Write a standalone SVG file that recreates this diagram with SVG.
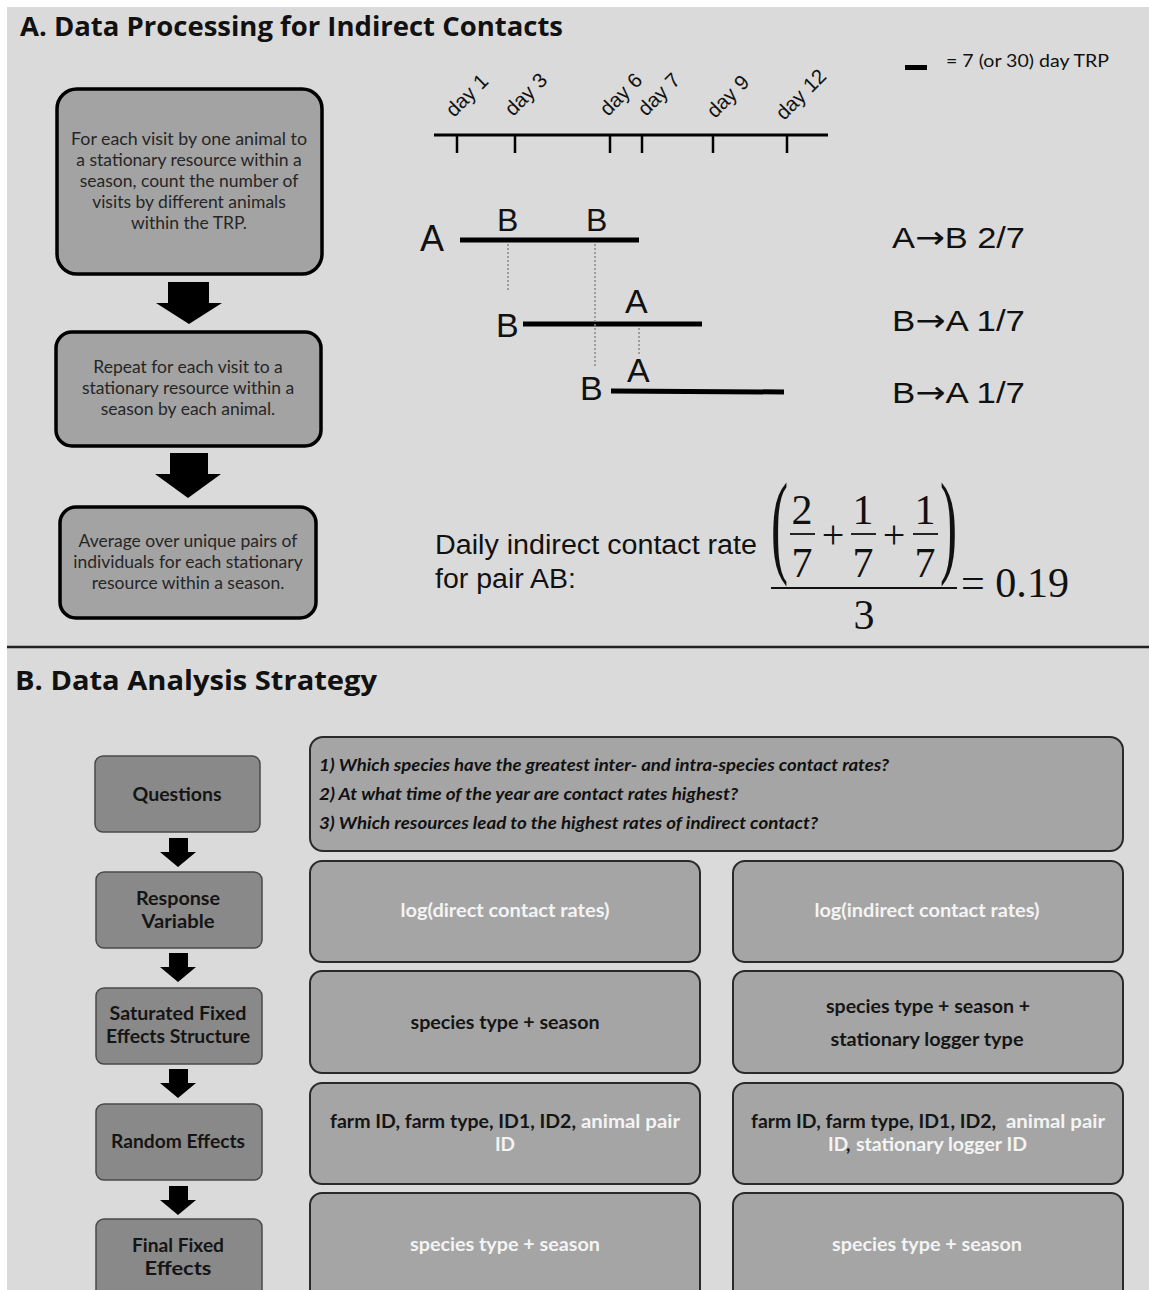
<svg xmlns="http://www.w3.org/2000/svg" width="1149" height="1290" viewBox="0 0 1149 1290">
<style>
.bg{fill:#dadada}
.boxA{fill:#a3a3a3;stroke:#000;stroke-width:3.5}
.txtA{font-family:Lato,"Open Sans",sans-serif;font-size:17.5px;fill:#262626;text-anchor:middle}
.title{font-family:"Open Sans",sans-serif;font-weight:bold;font-size:26px;fill:#111}
.lbl{font-family:"Liberation Sans",Arial,sans-serif;fill:#111}
.ar{font-family:"DejaVu Sans",sans-serif}
.bar{stroke:#000;stroke-width:5;stroke-linecap:butt}
.dot{stroke:#888;stroke-width:1.5;stroke-dasharray:2 2}
.serif{font-family:"Liberation Serif","Times New Roman",serif;fill:#111}
.boxL{fill:#898989;stroke:#4a4a4a;stroke-width:1.5}
.boxR{fill:#a5a5a5;stroke:#2a2a2a;stroke-width:2}
.txtB{font-family:Lato,"Open Sans",sans-serif;font-weight:bold;font-size:19px;fill:#151515;text-anchor:middle}
.st{text-anchor:start}
.wht{fill:#f4f4f4}
.q{font-family:Lato,"Open Sans",sans-serif;font-style:italic;font-weight:bold;font-size:17px;fill:#111}
.arr{fill:#000}
</style>
<rect x="0" y="0" width="1149" height="1290" fill="#ffffff"/>
<rect class="bg" x="7" y="7" width="1142" height="1283"/>
<line x1="7" y1="647" x2="1149" y2="647" stroke="#222" stroke-width="2.5"/>

<!-- Panel A title -->
<text class="title" x="20" y="36" textLength="543" lengthAdjust="spacingAndGlyphs">A. Data Processing for Indirect Contacts</text>

<!-- Panel A flow nodes -->
<g id="nodeA1">
<rect class="boxA" x="57" y="89" width="265" height="185" rx="20"/>
<text class="txtA" x="189" y="145" textLength="236" lengthAdjust="spacingAndGlyphs">For each visit by one animal to</text>
<text class="txtA" x="189" y="166">a stationary resource within a</text>
<text class="txtA" x="189" y="187">season, count the number of</text>
<text class="txtA" x="189" y="208">visits by different animals</text>
<text class="txtA" x="189" y="229">within the TRP.</text>
</g>
<g id="nodeA2">
<rect class="boxA" x="56" y="332" width="265" height="114" rx="16"/>
<text class="txtA" x="188" y="373">Repeat for each visit to a</text>
<text class="txtA" x="188" y="394">stationary resource within a</text>
<text class="txtA" x="188" y="415">season by each animal.</text>
</g>
<g id="nodeA3">
<rect class="boxA" x="60" y="507" width="256" height="111" rx="16"/>
<text class="txtA" x="188" y="547">Average over unique pairs of</text>
<text class="txtA" x="188" y="568">individuals for each stationary</text>
<text class="txtA" x="188" y="589">resource within a season.</text>
</g>

<!-- Timeline -->
<g id="timeline">
<line x1="434" y1="135" x2="828" y2="135" stroke="#000" stroke-width="3"/>
<g stroke="#000" stroke-width="2.5">
<line x1="457" y1="135" x2="457" y2="153"/>
<line x1="515" y1="135" x2="515" y2="153"/>
<line x1="610" y1="135" x2="610" y2="153"/>
<line x1="642" y1="135" x2="642" y2="153"/>
<line x1="713" y1="135" x2="713" y2="153"/>
<line x1="787" y1="135" x2="787" y2="153"/>
</g>
<g class="lbl" font-size="20.5">
<text transform="translate(454,118) rotate(-45)">day 1</text>
<text transform="translate(513,117) rotate(-45)">day 3</text>
<text transform="translate(608,117) rotate(-45)">day 6</text>
<text transform="translate(646,117) rotate(-45)">day 7</text>
<text transform="translate(715,119) rotate(-45)">day 9</text>
<text transform="translate(784,121) rotate(-45)">day 12</text>
</g>
</g>

<!-- Legend -->
<g id="legend">
<rect x="905" y="65" width="22" height="5" fill="#000"/>
<text x="946" y="67" font-family="Lato,'Open Sans',sans-serif" font-size="18" fill="#111" textLength="163" lengthAdjust="spacingAndGlyphs">= 7 (or 30) day TRP</text>
</g>

<!-- Visit bars -->
<g id="bars">
<line class="bar" x1="460" y1="240" x2="639" y2="240"/>
<line class="bar" x1="523" y1="324" x2="702" y2="324"/>
<line class="bar" x1="611" y1="391" x2="784" y2="392"/>
<line class="dot" x1="508" y1="244" x2="508" y2="290"/>
<line class="dot" x1="595" y1="244" x2="595" y2="368"/>
<line class="dot" x1="639" y1="328" x2="639" y2="354"/>
<g class="lbl">
<text x="420" y="251" font-size="36">A</text>
<text x="497" y="231" font-size="32">B</text>
<text x="586" y="231" font-size="32">B</text>
<text x="496" y="337" font-size="34">B</text>
<text x="625" y="313" font-size="34">A</text>
<text x="580" y="400" font-size="34">B</text>
<text x="627" y="382" font-size="34">A</text>
</g>
</g>

<!-- Results -->
<g id="results" class="lbl" font-size="30">
<text x="892" y="248" textLength="133" lengthAdjust="spacingAndGlyphs">A<tspan class="ar" font-size="31">→</tspan>B 2/7</text>
<text x="892" y="331" textLength="133" lengthAdjust="spacingAndGlyphs">B<tspan class="ar" font-size="31">→</tspan>A 1/7</text>
<text x="892" y="403" textLength="133" lengthAdjust="spacingAndGlyphs">B<tspan class="ar" font-size="31">→</tspan>A 1/7</text>
</g>

<!-- Equation -->
<g id="equation">
<text class="lbl" x="435" y="554" font-size="27" textLength="322" lengthAdjust="spacingAndGlyphs">Daily indirect contact rate</text>
<text class="lbl" x="435" y="588" font-size="27" textLength="141" lengthAdjust="spacingAndGlyphs">for pair AB:</text>
<text class="serif" transform="translate(771,562) scale(0.45,1)" font-size="114">(</text>
<text class="serif" transform="translate(940,562) scale(0.45,1)" font-size="114">)</text>
<g class="serif" font-size="42" text-anchor="middle">
<text x="802" y="524">2</text>
<text x="863" y="524">1</text>
<text x="925" y="524">1</text>
<text x="802" y="577">7</text>
<text x="863" y="577">7</text>
<text x="925" y="577">7</text>
<text x="833" y="548" font-size="40">+</text>
<text x="894" y="548" font-size="40">+</text>
<text x="864" y="629">3</text>
</g>
<g stroke="#111" stroke-width="1.8">
<line x1="790" y1="534" x2="815" y2="534"/>
<line x1="851" y1="534" x2="876" y2="534"/>
<line x1="913" y1="534" x2="938" y2="534"/>
<line x1="771" y1="588" x2="957" y2="588" stroke-width="2.2"/>
</g>
<text class="serif" x="961" y="597" font-size="42" textLength="108" lengthAdjust="spacingAndGlyphs">= 0.19</text>
</g>

<!-- Panel B title -->
<text class="title" x="15" y="690" textLength="362" lengthAdjust="spacingAndGlyphs">B.  Data Analysis Strategy</text>

<!-- Panel B left nodes -->
<g id="nodeQuestions">
<rect class="boxL" x="95" y="756" width="165" height="76" rx="8"/>
<text class="txtB" x="177" y="801" textLength="89" lengthAdjust="spacingAndGlyphs">Questions</text>
</g>
<g id="nodeResponse">
<rect class="boxL" x="96" y="872" width="166" height="76" rx="8"/>
<text class="txtB" x="178" y="905" textLength="84" lengthAdjust="spacingAndGlyphs">Response</text>
<text class="txtB" x="178" y="928" textLength="73" lengthAdjust="spacingAndGlyphs">Variable</text>
</g>
<g id="nodeSaturated">
<rect class="boxL" x="96" y="988" width="166" height="76" rx="8"/>
<text class="txtB" x="178" y="1020" textLength="137" lengthAdjust="spacingAndGlyphs">Saturated Fixed</text>
<text class="txtB" x="178" y="1043" textLength="144" lengthAdjust="spacingAndGlyphs">Effects Structure</text>
</g>
<g id="nodeRandom">
<rect class="boxL" x="96" y="1104" width="166" height="76" rx="8"/>
<text class="txtB" x="178" y="1148" textLength="134" lengthAdjust="spacingAndGlyphs">Random Effects</text>
</g>
<g id="nodeFinal">
<rect class="boxL" x="96" y="1219" width="166" height="90" rx="8"/>
<text class="txtB" x="178" y="1252" textLength="92" lengthAdjust="spacingAndGlyphs">Final Fixed</text>
<text class="txtB" x="178" y="1275" textLength="67" lengthAdjust="spacingAndGlyphs">Effects</text>
</g>

<!-- Panel B right nodes -->
<g id="nodeQuestionList">
<rect class="boxR" x="310" y="737" width="813" height="114" rx="13"/>
<text class="q" x="319" y="771" textLength="570" lengthAdjust="spacingAndGlyphs">1)  Which species have the greatest inter- and intra-species contact rates?</text>
<text class="q" x="319" y="800" textLength="419" lengthAdjust="spacingAndGlyphs">2)  At what time of the year are contact rates highest?</text>
<text class="q" x="319" y="829" textLength="499" lengthAdjust="spacingAndGlyphs">3)  Which resources lead to the highest rates of indirect contact?</text>
</g>
<g id="nodeDirectResp">
<rect class="boxR" x="310" y="861" width="390" height="101" rx="12"/>
<text class="txtB wht" x="505" y="917" textLength="209" lengthAdjust="spacingAndGlyphs">log(direct contact rates)</text>
</g>
<g id="nodeIndirectResp">
<rect class="boxR" x="733" y="861" width="390" height="101" rx="12"/>
<text class="txtB wht" x="927" y="917" textLength="225" lengthAdjust="spacingAndGlyphs">log(indirect contact rates)</text>
</g>
<g id="nodeDirectSat">
<rect class="boxR" x="310" y="971" width="390" height="102" rx="12"/>
<text class="txtB" x="505" y="1029" textLength="189" lengthAdjust="spacingAndGlyphs">species type + season</text>
</g>
<g id="nodeIndirectSat">
<rect class="boxR" x="733" y="971" width="390" height="102" rx="12"/>
<text class="txtB" x="928" y="1013" textLength="204" lengthAdjust="spacingAndGlyphs">species type + season +</text>
<text class="txtB" x="927" y="1046" textLength="193" lengthAdjust="spacingAndGlyphs">stationary logger type</text>
</g>
<g id="nodeDirectRand">
<rect class="boxR" x="310" y="1083" width="390" height="101" rx="12"/>
<text class="txtB st" x="330" y="1128" textLength="246" lengthAdjust="spacingAndGlyphs">farm ID, farm type, ID1, ID2,</text>
<text class="txtB wht st" x="581" y="1128" textLength="99" lengthAdjust="spacingAndGlyphs">animal pair</text>
<text class="txtB wht" x="505" y="1151">ID</text>
</g>
<g id="nodeIndirectRand">
<rect class="boxR" x="733" y="1083" width="390" height="101" rx="12"/>
<text class="txtB st" x="751" y="1128" textLength="245" lengthAdjust="spacingAndGlyphs">farm ID, farm type, ID1, ID2,</text>
<text class="txtB wht st" x="1006" y="1128" textLength="99" lengthAdjust="spacingAndGlyphs">animal pair</text>
<text class="txtB wht st" x="828" y="1151">ID</text>
<text class="txtB st" x="846" y="1151">,</text>
<text class="txtB wht st" x="856" y="1151" textLength="171" lengthAdjust="spacingAndGlyphs">stationary logger ID</text>
</g>
<g id="nodeDirectFinal">
<rect class="boxR" x="310" y="1193" width="390" height="115" rx="12"/>
<text class="txtB wht" x="505" y="1251" textLength="190" lengthAdjust="spacingAndGlyphs">species type + season</text>
</g>
<g id="nodeIndirectFinal">
<rect class="boxR" x="733" y="1193" width="390" height="115" rx="12"/>
<text class="txtB wht" x="927" y="1251" textLength="190" lengthAdjust="spacingAndGlyphs">species type + season</text>
</g>

<!-- Connectors -->
<g id="connectors" class="arr">
<polygon points="168,282 209,282 209,303 222,303 189,324 156,303 168,303"/>
<polygon points="170,453 208,453 208,474 221,474 188,498 155,474 170,474"/>
<polygon points="169,838 188,838 188,852 196,852 178,867 160,852 169,852"/>
<polygon points="169,953 188,953 188,967 196,967 178,982 160,967 169,967"/>
<polygon points="169,1069 188,1069 188,1083 196,1083 178,1098 160,1083 169,1083"/>
<polygon points="169,1186 188,1186 188,1200 196,1200 178,1215 160,1200 169,1200"/>
</g>
</svg>
